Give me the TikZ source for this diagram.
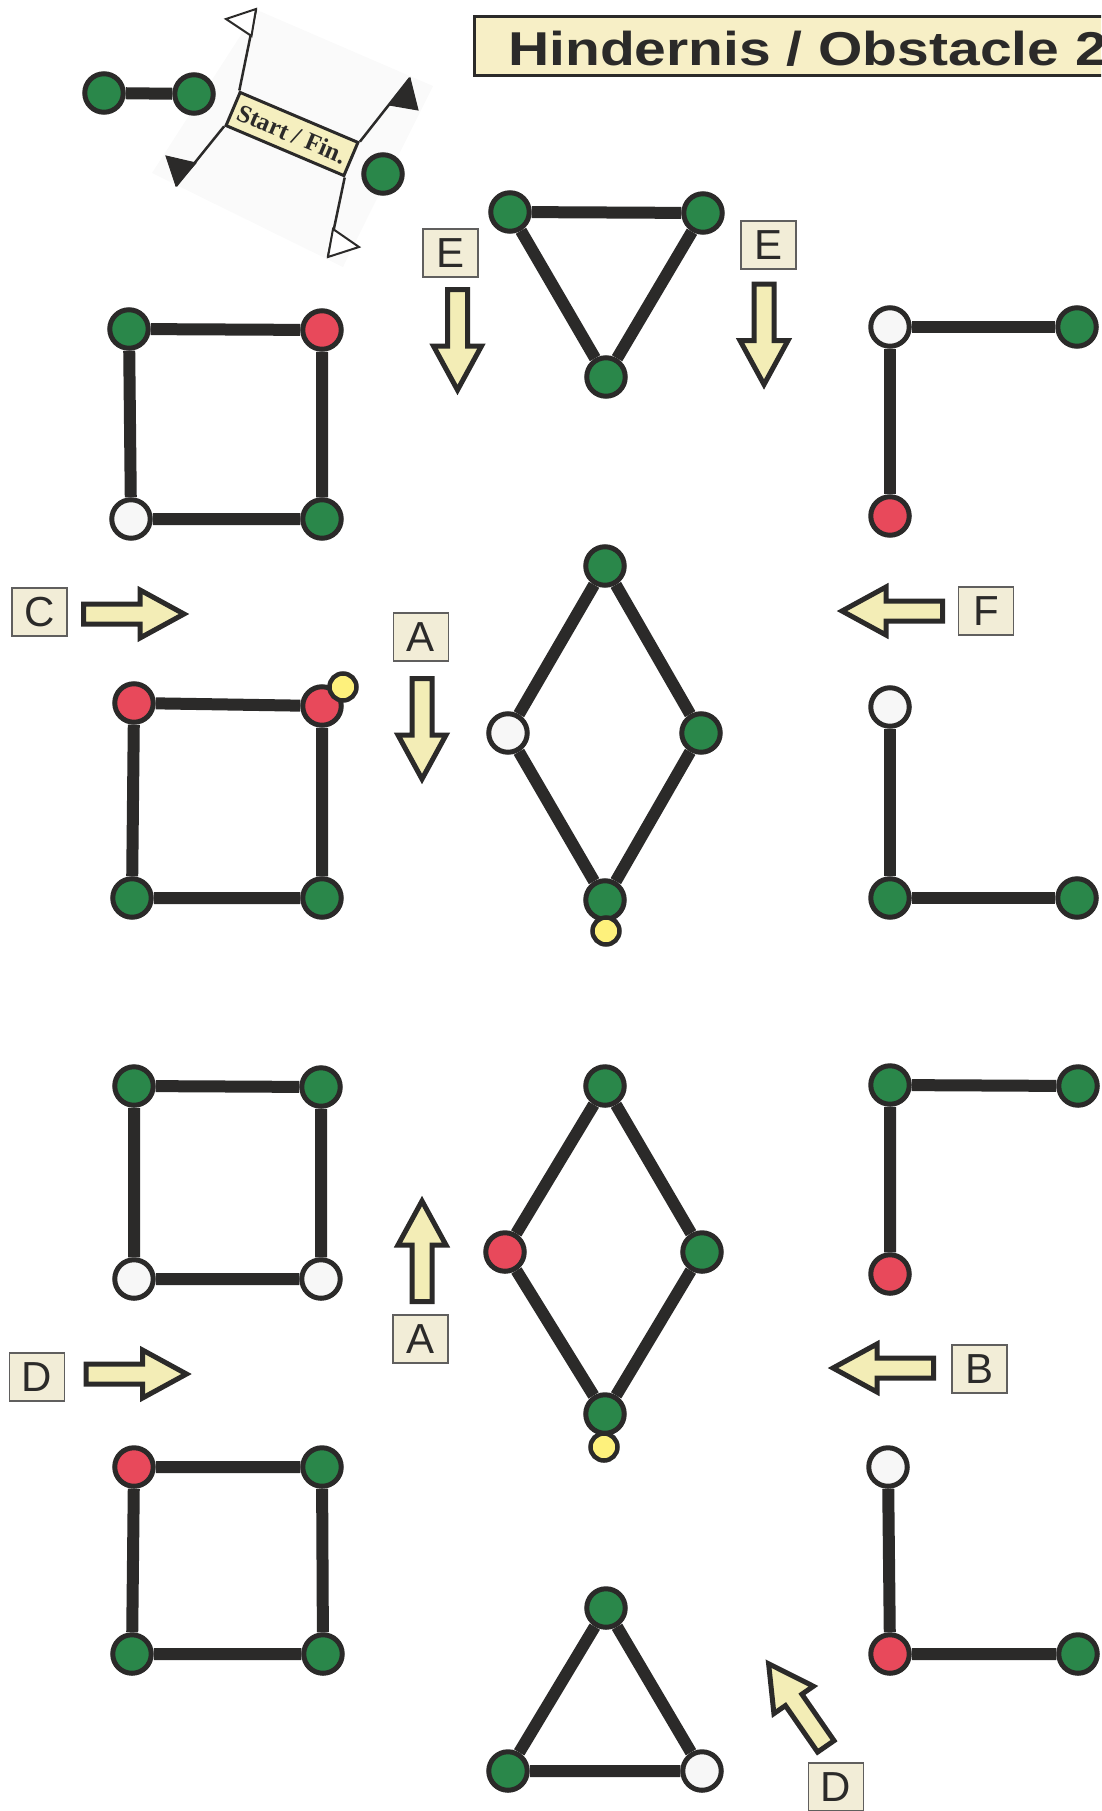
\documentclass[tikz,border=0pt]{standalone}
\usepackage{fontspec}
\setmainfont{Liberation Sans}
\newfontfamily\flagserif{Liberation Serif}
\usetikzlibrary{backgrounds}
\definecolor{ink}{HTML}{2B2A29}
\definecolor{ngreen}{HTML}{2A874A}
\definecolor{nred}{HTML}{E8495B}
\definecolor{nwhite}{HTML}{F7F7F7}
\definecolor{nyellow}{HTML}{FEF17C}
\definecolor{arrfill}{HTML}{F3EDB6}
\definecolor{labfill}{HTML}{F2EDD7}
\definecolor{titlefill}{HTML}{F7EFC6}
\definecolor{sffill}{HTML}{F5EFBF}
\begin{document}
\begin{tikzpicture}[x=1pt,y=-1pt,
  vtx/.style={circle, draw=ink, line width=5pt, minimum size=38.5pt, inner sep=0pt},
  G/.style={vtx, fill=ngreen},
  R/.style={vtx, fill=nred},
  W/.style={vtx, fill=nwhite},
  Y/.style={circle, draw=ink, line width=4.5pt, minimum size=27pt, inner sep=0pt, fill=nyellow},
  bar/.style={draw=ink, line width=12pt},
  lab/.style={draw=ink!75, line width=1.5pt, fill=labfill, minimum width=55pt, minimum height=48pt, inner sep=0pt, text=ink, font=\fontsize{42}{42}\selectfont},
  pole/.style={draw=ink, line width=2.5pt},
  hollowflag/.style={draw=ink, fill=white, line width=2pt},
  blackflag/.style={draw=ink, fill=ink, line width=1pt},
  blockarr/.pic={\draw[draw=ink, fill=arrfill, line width=5pt, miter limit=10]
      (-51.5,-10) -- (5,-10) -- (5,-24) -- (49,0) -- (5,24) -- (5,10) -- (-51.5,10) -- cycle;},
]
\useasboundingbox (0,0) rectangle (1101,1811);
\clip (0,0) rectangle (1101,1811);

% title
\draw[draw=ink, line width=3pt, fill=titlefill] (474,17) rectangle (1130,76);
\node[anchor=base west, inner sep=0pt, text=ink] (title) at (508,66)
  {\scalebox{1.2}[1]{\fontsize{47.5}{50}\selectfont\bfseries Hindernis / Obstacle 2}};

% start / finish
\fill[black!2] (257,10) -- (433,86) -- (343,267) -- (152,173) -- cycle;
\node[draw=ink, line width=3pt, fill=sffill, rotate=-23, minimum width=128pt, minimum height=36pt, inner sep=0pt, text=ink]
  (sf) at (292,134) {\flagserif\bfseries\fontsize{25}{25}\selectfont Start / Fin.};
\coordinate (f1) at (256,9);
\coordinate (f2) at (176,186);
\coordinate (f3) at (410,78);
\coordinate (f4) at (328,257);
\draw[pole] (sf.north west) -- (f1);
\draw[pole] (sf.south west) -- (f2);
\draw[pole] (sf.north east) -- (f3);
\draw[pole] (sf.south east) -- (f4);
\draw[hollowflag] (251.5,36) -- (f1) -- (226,19) -- cycle;
\draw[blackflag] (196,163) -- (f2) -- (166,156) -- cycle;
\draw[blackflag] (389,105) -- (f3) -- (418,110) -- cycle;
\draw[hollowflag] (333,229) -- (f4) -- (359,247) -- cycle;

% vertices
\node[G] (p1) at (104,93) {};
\node[G] (p2) at (194,94) {};
\node[G] (p3) at (383,174) {};

\node[G] (t1) at (510,212) {};
\node[G] (t2) at (703,213) {};
\node[G] (t3) at (606,377) {};

\node[G] (a1) at (129,329) {};
\node[R] (a2) at (322,330) {};
\node[W] (a3) at (131,519) {};
\node[G] (a4) at (322,519) {};

\node[W] (b1) at (890,327) {};
\node[G] (b2) at (1077,327) {};
\node[R] (b3) at (890,516) {};

\node[R] (c1) at (134,703) {};
\node[R] (c2) at (322,706) {};
\node[G] (c3) at (132,898) {};
\node[G] (c4) at (322,898) {};
\node[Y] (c5) at (343,687) {};

\node[G] (d1) at (605,566) {};
\node[W] (d2) at (508,733) {};
\node[G] (d3) at (701,733) {};
\node[G] (d4) at (605,900) {};
\node[Y] (d5) at (606,931) {};

\node[W] (e1) at (890,707) {};
\node[G] (e2) at (890,898) {};
\node[G] (e3) at (1077,898) {};

\node[G] (g1) at (134,1086) {};
\node[G] (g2) at (321,1087) {};
\node[W] (g3) at (134,1279) {};
\node[W] (g4) at (321,1279) {};

\node[G] (h1) at (605,1086) {};
\node[R] (h2) at (505,1252) {};
\node[G] (h3) at (702,1252) {};
\node[G] (h4) at (605,1414) {};
\node[Y] (h5) at (604,1447) {};

\node[G] (k1) at (890,1085) {};
\node[G] (k2) at (1078,1086) {};
\node[R] (k3) at (890,1274) {};

\node[R] (m1) at (134,1467) {};
\node[G] (m2) at (322,1467) {};
\node[G] (m3) at (132,1654) {};
\node[G] (m4) at (323,1654) {};

\node[W] (n1) at (888,1467) {};
\node[R] (n2) at (890,1654) {};
\node[G] (n3) at (1078,1654) {};

\node[G] (q1) at (606,1608) {};
\node[G] (q2) at (508,1771) {};
\node[W] (q3) at (702,1771) {};

% edges behind vertices
\begin{pgfonlayer}{background}
\draw[bar] (p1) -- (p2);
\draw[bar] (t1) -- (t2) -- (t3) -- (t1);
\draw[bar] (a1) -- (a2) -- (a4) -- (a3) -- (a1);
\draw[bar] (b2) -- (b1) -- (b3);
\draw[bar] (c1) -- (c2) -- (c4) -- (c3) -- (c1);
\draw[bar] (d1) -- (d3) -- (d4) -- (d2) -- (d1);
\draw[bar] (e1) -- (e2) -- (e3);
\draw[bar] (g1) -- (g2) -- (g4) -- (g3) -- (g1);
\draw[bar] (h1) -- (h3) -- (h4) -- (h2) -- (h1);
\draw[bar] (k2) -- (k1) -- (k3);
\draw[bar] (m1) -- (m2) -- (m4) -- (m3) -- (m1);
\draw[bar] (n1) -- (n2) -- (n3);
\draw[bar] (q1) -- (q3) -- (q2) -- (q1);
\end{pgfonlayer}

% labels
\node[lab] (lE1) at (450.5,253) {E};
\node[lab] (lE2) at (768.5,245) {E};
\node[lab] (lC) at (39.5,612) {C};
\node[lab] (lA1) at (421,637) {A};
\node[lab] (lF) at (986,611) {F};
\node[lab] (lA2) at (420.5,1339) {A};
\node[lab] (lB) at (979.5,1369) {B};
\node[lab] (lD1) at (37,1377) {D};
\node[lab] (lD2) at (836,1787) {D};

% direction arrows
\pic (arC) at (135,614) {blockarr};
\pic[rotate=-90] (arE1) at (457.5,341) {blockarr};
\pic[rotate=-90] (arE2) at (764,335.5) {blockarr};
\pic[rotate=-90] (arA1) at (422,730) {blockarr};
\pic[rotate=180] (arF) at (891,611) {blockarr};
\pic[rotate=90] (arA2) at (422,1250) {blockarr};
\pic[rotate=180] (arB) at (882,1368) {blockarr};
\pic (arD1) at (137.5,1374) {blockarr};
\pic[rotate=124.7] (arD2) at (796.5,1704) {blockarr};
\end{tikzpicture}
\end{document}
